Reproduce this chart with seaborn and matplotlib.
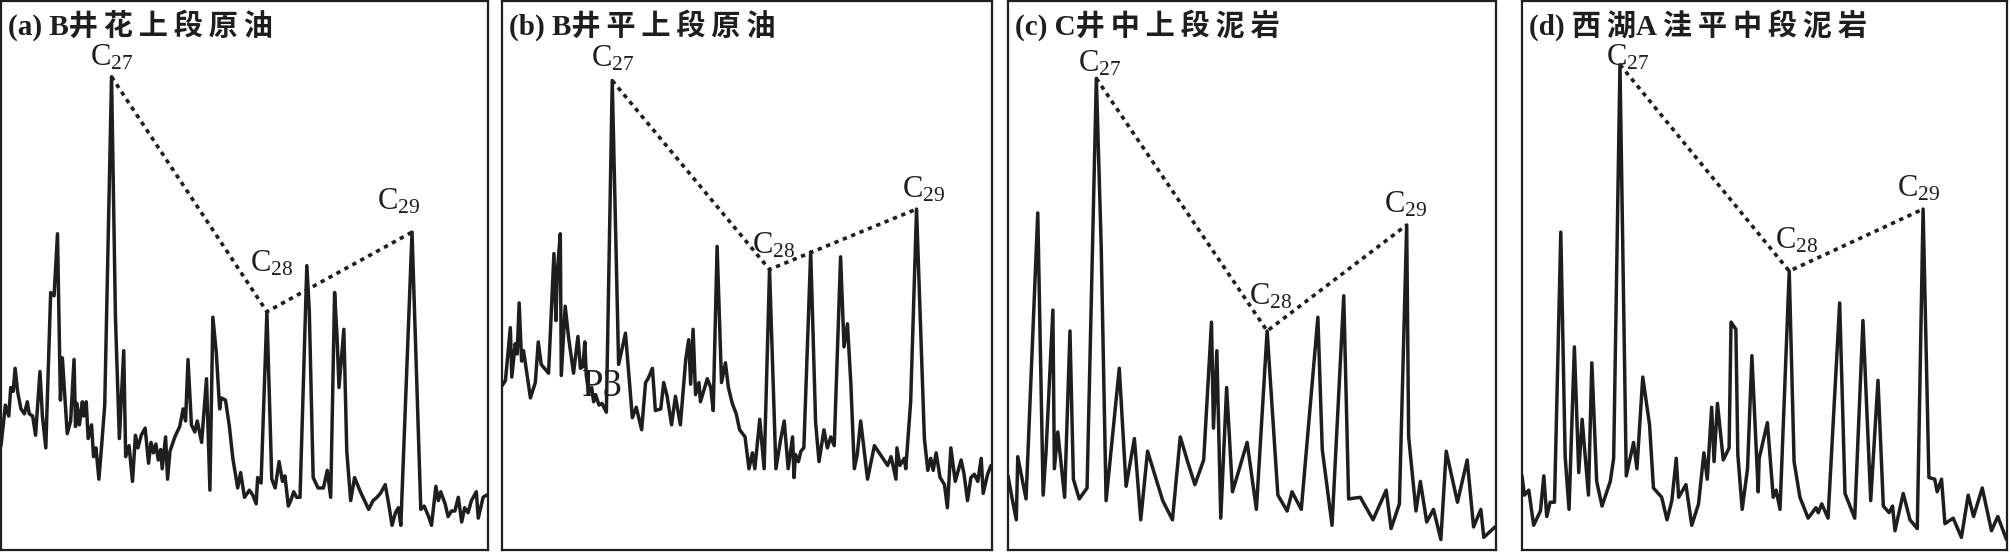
import numpy as np
import pandas as pd
import seaborn as sns
import matplotlib.pyplot as plt

# ── Data (m/z 217 sterane traces, relative abundance 0-100) ──────────────────

titles = ["(a) B井花上段原油", "(b) B井平上段原油", "(c) C井中上段泥岩", "(d) 西湖A洼平中段泥岩"]
sterane_labels = ["27", "28", "29"]

a_x = [0, 0.9, 1.6, 2.0, 2.5, 2.9, 3.4, 4.1, 4.8, 5.4, 5.8, 6.5, 7.1, 8.0, 8.5, 9.2,
       10.2, 10.9, 11.6, 12.2, 12.6, 13.6, 14.3, 15.0, 15.3, 15.6, 16.1, 16.7, 17.0,
       17.5, 17.9, 18.6, 19.0, 19.5, 20.1, 20.6, 21.3, 22.7, 23.5, 24.3, 25.2, 25.6,
       26.3, 27.0, 27.6, 28.1, 28.8, 29.6, 30.3, 30.8, 31.3, 31.8, 32.3, 32.8, 33.1,
       33.8, 34.2, 34.7, 35.7, 36.7, 37.4, 37.9, 38.4, 39.1, 39.8, 40.3, 41.2, 42.2,
       42.9, 43.5, 44.2, 44.9, 45.2, 46.1, 46.9, 47.6, 48.6, 49.2, 50.0, 51.0, 51.7,
       52.4, 52.7, 53.4, 54.6, 55.6, 56.3, 57.1, 57.8, 58.3, 59.0, 59.5, 60.1, 60.7,
       61.4, 62.8, 63.3, 64.1, 65.1, 66.2, 67.0, 67.7, 68.5, 69.0, 69.4, 70.4, 71.0,
       71.8, 72.6, 73.8, 75.5, 76.4, 77.2, 77.9, 78.9, 79.6, 80.3, 81.0, 81.6, 82.1,
       84.4, 86.2, 86.9, 87.8, 88.4, 89.3, 89.8, 90.3, 91.2, 91.8, 92.5, 93.2, 93.9,
       94.6, 95.2, 95.9, 96.6, 97.6, 98.0, 99.0, 99.7]
a_y = [19.0, 26.4, 24.4, 29.6, 28.9, 33.1, 28.9, 25.7, 24.8, 27.0, 24.8, 24.4, 20.9,
       32.5, 24.4, 18.6, 46.9, 46.3, 57.6, 27.3, 35.0, 21.2, 23.5, 34.7, 22.5, 26.7,
       22.8, 27.0, 24.4, 27.0, 20.3, 22.8, 17.0, 18.6, 12.9, 18.3, 26.4, 86.2, 42.4,
       20.3, 36.3, 17.0, 19.0, 12.5, 20.9, 18.6, 20.9, 22.2, 15.8, 19.6, 17.7, 19.3,
       16.4, 18.3, 14.8, 20.6, 12.9, 18.0, 20.6, 22.5, 25.7, 23.5, 34.7, 22.8, 21.5,
       23.5, 19.6, 31.2, 10.9, 42.4, 36.0, 25.7, 27.7, 27.3, 22.5, 16.7, 11.3, 14.1,
       9.6, 10.9, 10.0, 8.4, 13.2, 12.2, 43.4, 12.9, 11.3, 16.1, 12.5, 13.5, 8.0, 9.0,
       10.6, 9.6, 9.6, 51.8, 43.7, 13.2, 11.3, 11.3, 14.5, 9.6, 46.9, 38.9, 29.6, 40.2,
       18.0, 9.0, 13.2, 10.6, 7.4, 9.0, 9.6, 10.3, 11.9, 8.4, 4.5, 6.8, 7.7, 4.5, 57.9,
       7.4, 8.0, 6.1, 4.5, 11.6, 9.0, 10.6, 8.4, 6.1, 7.1, 7.1, 9.6, 5.1, 7.7, 6.8, 9.0,
       10.6, 5.8, 9.6, 10.0]
a_peaks = [22.7, 54.6, 84.4]

b_x = [0, 0.7, 1.7, 2.0, 2.7, 3.1, 3.5, 4.0, 4.4, 5.8, 6.8, 7.4, 8.0, 9.5, 10.6, 11.0,
       11.3, 11.9, 12.1, 12.9, 13.6, 14.6, 15.5, 16.0, 16.5, 16.9, 17.2, 17.7, 18.3,
       18.7, 19.1, 19.8, 20.4, 21.3, 22.5, 23.8, 25.2, 26.6, 27.4, 28.5, 29.3, 29.8,
       30.7, 31.3, 32.4, 33.0, 33.7, 34.6, 35.4, 36.4, 37.5, 38.1, 38.5, 39.0, 39.5,
       40.2, 40.5, 41.9, 42.6, 43.1, 43.9, 44.8, 45.6, 46.2, 47.0, 47.8, 48.5, 49.6,
       50.4, 51.1, 51.6, 52.6, 53.5, 54.6, 55.9, 56.9, 57.6, 58.4, 59.3, 59.6, 59.9,
       60.5, 61.0, 61.6, 63.0, 64.0, 64.7, 65.7, 66.4, 67.1, 67.8, 69.1, 69.8, 70.5,
       71.2, 71.9, 72.5, 73.2, 74.6, 76.0, 78.7, 79.4, 80.4, 80.6, 81.2, 82.1, 82.4,
       83.4, 84.6, 86.2, 86.9, 87.5, 88.0, 88.6, 89.4, 90.3, 90.9, 91.6, 92.5, 93.0,
       93.7, 94.3, 95.0, 95.7, 96.4, 97.1, 97.8, 98.2, 99.1, 99.8]
b_y = [29.9, 30.9, 40.5, 31.5, 37.6, 35.7, 45.0, 34.4, 36.3, 27.7, 30.5, 37.9, 33.8,
       32.2, 54.0, 41.8, 50.8, 57.6, 31.8, 44.4, 38.6, 32.2, 38.9, 33.1, 33.4, 37.9,
       31.8, 28.6, 29.6, 27.0, 28.3, 26.4, 26.7, 25.1, 85.5, 33.8, 39.5, 24.1, 26.0,
       21.9, 30.5, 31.2, 33.1, 25.4, 25.7, 30.5, 28.0, 22.8, 28.0, 22.8, 34.7, 38.3,
       30.2, 40.2, 28.3, 30.5, 27.0, 31.2, 29.6, 25.4, 55.3, 30.5, 34.1, 29.6, 26.7,
       24.8, 21.9, 20.6, 14.8, 17.7, 14.8, 23.8, 14.8, 51.1, 14.8, 20.3, 23.5, 14.8,
       20.6, 13.2, 17.4, 16.1, 18.0, 18.6, 54.3, 23.2, 16.1, 21.9, 18.6, 20.6, 19.0,
       53.4, 37.0, 41.2, 30.2, 14.8, 17.4, 23.5, 12.9, 19.0, 15.4, 17.0, 12.9, 18.6,
       15.4, 16.7, 14.8, 27.0, 62.1, 20.3, 14.5, 16.7, 14.5, 17.7, 13.2, 11.9, 7.7,
       18.6, 12.5, 14.1, 16.4, 13.8, 9.0, 13.2, 13.8, 12.5, 16.7, 10.3, 13.8, 15.4]
b_peaks = [22.5, 54.6, 84.6]

c_x = [0, 0.8, 1.7, 2.0, 2.7, 3.7, 6.1, 7.2, 7.8, 9.2, 9.5, 10.2, 11.6, 12.7, 13.4,
       14.6, 16.2, 18.1, 19.1, 20.1, 22.8, 24.2, 25.9, 27.2, 28.6, 31.7, 33.7, 35.3,
       36.8, 38.3, 40.1, 41.7, 42.1, 42.8, 43.6, 44.8, 46.0, 49.0, 50.9, 53.1, 55.3,
       57.2, 58.2, 60.1, 63.5, 64.4, 66.4, 68.8, 69.8, 72.2, 74.8, 77.5, 78.5, 80.2,
       81.7, 82.1, 83.6, 84.5, 85.8, 87.2, 88.7, 89.8, 92.1, 94.1, 95.4, 96.9, 97.5,
       99.8]
c_y = [13.5, 9.6, 5.5, 17.0, 13.8, 9.3, 61.4, 10.0, 18.0, 43.7, 14.8, 21.5, 9.6, 39.9,
       12.9, 9.3, 11.3, 85.9, 55.3, 9.0, 33.1, 11.6, 20.3, 5.5, 18.0, 9.0, 5.5, 20.6,
       16.1, 11.9, 16.4, 41.5, 22.2, 36.3, 5.8, 29.6, 10.6, 19.6, 7.4, 39.9, 10.0, 7.1,
       10.6, 7.4, 42.4, 18.3, 4.5, 46.3, 9.3, 9.6, 5.5, 10.9, 3.9, 8.4, 59.2, 20.6, 7.1,
       12.5, 5.1, 7.4, 1.9, 18.0, 8.7, 16.4, 4.2, 7.4, 2.3, 4.2]
c_peaks = [18.1, 53.1, 81.7]

d_x = [0, 0.5, 1.4, 2.4, 3.8, 4.5, 5.1, 5.8, 6.7, 8.0, 8.9, 9.7, 10.8, 11.7, 12.4,
       13.7, 14.4, 15.4, 16.5, 18.2, 18.9, 20.2, 21.5, 23.0, 23.7, 24.9, 26.3, 27.1,
       28.8, 29.9, 30.9, 31.8, 32.3, 33.8, 35.0, 36.4, 37.5, 38.2, 39.1, 39.6, 40.3,
       41.5, 42.7, 43.1, 44.1, 44.5, 45.4, 46.5, 47.4, 48.7, 48.9, 50.6, 51.8, 52.4,
       53.2, 55.1, 56.1, 57.3, 59.0, 60.6, 61.1, 61.8, 63.1, 65.5, 66.6, 68.6, 70.3,
       71.9, 73.4, 74.5, 75.7, 76.4, 76.9, 78.6, 80.0, 81.5, 82.7, 83.9, 85.1, 85.6,
       86.5, 87.2, 88.9, 90.6, 92.0, 93.1, 94.9, 96.8, 98.1, 99.9]
d_y = [13.5, 10.0, 10.9, 4.5, 7.1, 13.5, 6.1, 8.7, 8.7, 57.9, 17.0, 7.4, 37.0, 14.1,
       23.8, 10.0, 34.1, 12.5, 8.0, 12.5, 16.7, 88.4, 13.5, 19.6, 14.8, 31.5, 22.8,
       11.3, 9.6, 5.5, 9.0, 16.7, 9.6, 11.9, 4.5, 8.4, 17.7, 12.9, 26.0, 16.1, 26.7,
       16.4, 18.6, 41.5, 40.2, 17.4, 7.4, 14.8, 35.4, 10.6, 16.7, 23.2, 9.6, 10.9, 7.4,
       50.8, 16.1, 9.6, 5.8, 7.7, 6.8, 8.4, 5.8, 45.0, 10.3, 5.8, 41.8, 9.0, 30.9, 8.0,
       6.8, 8.0, 3.5, 10.3, 5.5, 3.9, 62.1, 13.2, 12.9, 10.6, 12.9, 4.8, 5.8, 2.3, 10.0,
       6.1, 11.3, 3.5, 6.1, 1.9]
d_peaks = [20.2, 55.1, 82.7]

# stray annotation printed in panel (b)
stray_text = "P3"
stray_pos = (20.4, 29.7)

# ── Layout / style ───────────────────────────────────────────────────────────

W, H = 2011, 553
boxes_px = [(1, 488), (502, 992), (1008, 1496), (1522, 2007)]
top_px, bottom_px = 1, 550
# label offsets (pixels) of C27, C28, C29 from their peaks, per panel
label_offsets = [
    [(0, 19), (5, 48), (-13, 30)],
    [(0, 22), (4, 24), (7, 19)],
    [(3, 15), (3, 34), (-1, 20)],
    [(8, 7), (7, 30), (-5, 20)],
]
INK = "#1e1e1e"

sns.set_style("white")
plt.rcParams["font.family"] = ["Liberation Serif", "Noto Sans CJK SC", "DejaVu Sans"]
plt.rcParams["mathtext.fontset"] = "custom"
plt.rcParams["mathtext.rm"] = "Liberation Serif"
plt.rcParams["mathtext.it"] = "Liberation Serif:italic"


def spaced(text):
    # the printed titles have loose tracking between the Chinese characters
    out = text[0]
    for prev, ch in zip(text, text[1:]):
        if ord(ch) > 0x2E80 and (ord(prev) > 0x2E80 or prev == "A"):
            out += "\u2009"
        out += ch
    return out


def draw_panel(ax, x, y, peaks, title, offsets):
    df = pd.DataFrame({"rt": x, "abundance": y})
    sns.lineplot(data=df, x="rt", y="abundance", ax=ax, color=INK, lw=2.5,
                 sort=False, estimator=None)
    peak_y = np.interp(peaks, x, y)
    ax.plot(peaks, peak_y, color=INK, lw=2.6, linestyle=(0, (1.2, 1.3)),
            dash_capstyle="butt")
    for px, py, lab, (dx, dy) in zip(peaks, peak_y, sterane_labels, offsets):
        ax.annotate(f"C$_{{{lab}}}$", xy=(px, py), xytext=(dx, dy),
                    textcoords="offset pixels", ha="center", va="center",
                    fontsize=22, color=INK)
    ax.text(0.014, 0.985, spaced(title), transform=ax.transAxes, ha="left", va="top",
            fontsize=21, color=INK, fontweight="bold",
            family=["Liberation Serif", "Noto Sans CJK SC"])
    ax.set_xlim(0, 100)
    ax.set_ylim(0, 100)
    ax.set_xticks([])
    ax.set_yticks([])
    ax.set_xlabel("")
    ax.set_ylabel("")
    for sp in ax.spines.values():
        sp.set_visible(True)
        sp.set_color(INK)
        sp.set_linewidth(1.6)


fig = plt.figure(figsize=(W / 100, H / 100), dpi=100)
fig.patch.set_facecolor("white")

series = [(a_x, a_y, a_peaks), (b_x, b_y, b_peaks), (c_x, c_y, c_peaks), (d_x, d_y, d_peaks)]
axes = []
for (x0, x1), (x, y, pk), title, offs in zip(boxes_px, series, titles, label_offsets):
    ax = fig.add_axes([x0 / W, (H - bottom_px) / H, (x1 - x0) / W, (bottom_px - top_px) / H])
    draw_panel(ax, x, y, pk, title, offs)
    axes.append(ax)

axes[1].text(stray_pos[0], stray_pos[1], stray_text, ha="center", va="center",
             fontsize=28, color=INK)

fig.savefig("out.png", dpi=100)
